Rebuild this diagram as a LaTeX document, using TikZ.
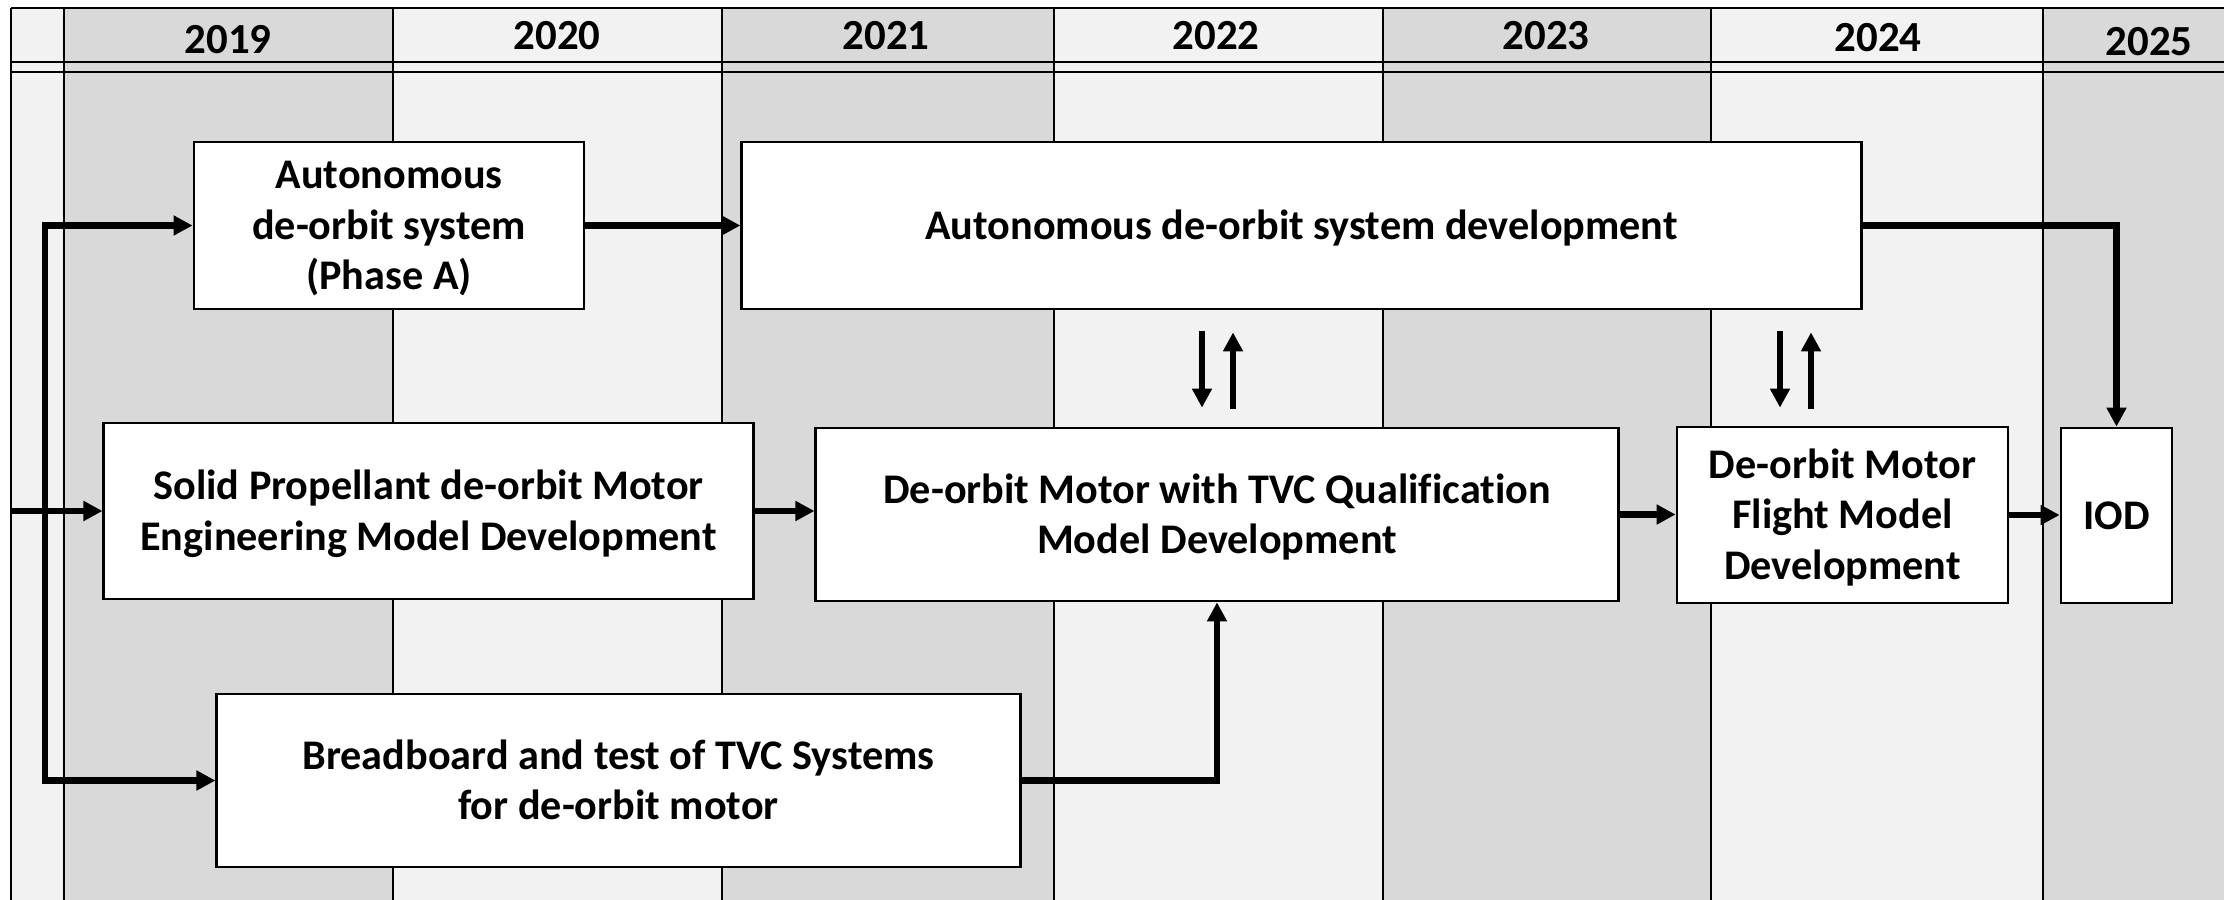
\documentclass[tikz,border=0pt]{standalone}
\usepackage{fontspec}
\setmainfont{Carlito}[Ligatures=NoCommon]
\usetikzlibrary{arrows.meta,calc}
\definecolor{colgray}{HTML}{D9D9D9}
\definecolor{collight}{HTML}{F2F2F2}
% centred lines of a work-package box, first line given a taller ascent
\newcommand{\stacklines}[1]{\begin{tabular}{@{}c@{}}\rule{0pt}{12.2pt}#1\end{tabular}}
\begin{document}
\begin{tikzpicture}[x=0.01cm,y=-0.01cm,
  box/.style={draw=black,line width=0.75pt,fill=white,inner sep=0pt,
    font=\fontsize{12}{14.35}\selectfont\bfseries},
  yr/.style={inner sep=0pt,font=\fontsize{12.2}{14}\selectfont\bfseries},
  gridline/.style={line width=0.6pt,black},
  arr/.style={line width=1.8pt,-{Triangle[length=0.19cm,width=0.19cm]}},
  twoarr/.style={line width=1.8pt,{Triangle[length=0.19cm,width=0.19cm]}-{Triangle[length=0.19cm,width=0.19cm]}},
]
\useasboundingbox (0,0) rectangle (2224,900);

% year bands
\fill[collight] (11,8)   rectangle (64,900);
\fill[colgray]  (64,8)   rectangle (393,900);
\fill[collight] (393,8)  rectangle (722,900);
\fill[colgray]  (722,8)  rectangle (1054,900);
\fill[collight] (1054,8) rectangle (1383,900);
\fill[colgray]  (1383,8) rectangle (1711,900);
\fill[collight] (1711,8) rectangle (2043,900);
\fill[colgray]  (2043,8) rectangle (2224,900);

% grid
\draw[gridline] (11,8) -- (2224,8);
\draw[gridline] (11,62) -- (2224,62);
\draw[gridline] (11,72) -- (2224,72);
\foreach \x in {11,64,393,722,1054,1383,1711,2043}
  \draw[gridline] (\x,8) -- (\x,900);

% year headings
\node[yr] (y2019) at (228,40)  {2019};
\node[yr] (y2020) at (557,36)  {2020};
\node[yr] (y2021) at (886,36)  {2021};
\node[yr] (y2022) at (1216,36) {2022};
\node[yr] (y2023) at (1546,36) {2023};
\node[yr] (y2024) at (1878,38) {2024};
\node[yr] (y2025) at (2149,42) {2025};

% work packages
\node[box,minimum width=3.90cm,minimum height=1.67cm] (A) at (389,225.5)
  {\stacklines{Autonomous\\de-orbit system\\(Phase A)}};
\node[box,minimum width=11.19cm,minimum height=1.67cm] (B) at (1301.5,225.5)
  {\stacklines{Autonomous de-orbit system development}};
\node[box,minimum width=6.49cm,minimum height=1.76cm] (C) at (428.5,511)
  {\stacklines{Solid Propellant de-orbit Motor\\Engineering Model Development}};
\node[box,minimum width=8.02cm,minimum height=1.73cm] (D) at (1217,514.5)
  {\stacklines{De-orbit Motor with TVC Qualification\\Model Development}};
\node[box,minimum width=3.31cm,minimum height=1.76cm] (E) at (1842.5,515)
  {\stacklines{De-orbit Motor\\Flight Model\\Development}};
\node[box,minimum width=1.11cm,minimum height=1.75cm] (F) at (2116.5,515.5)
  {\stacklines{IOD}};
\node[box,minimum width=8.03cm,minimum height=1.73cm] (G) at (618.5,780.5)
  {\stacklines{Breadboard and test of TVC Systems\\for de-orbit motor}};

% helper coordinates
\coordinate (trunk) at (45,0);
\coordinate (edge) at (11,0);
\coordinate (dn1) at (1202,0);
\coordinate (up1) at (1233,0);
\coordinate (dn2) at (1780,0);
\coordinate (up2) at (1811,0);

% connectors
\draw[twoarr] (A.west) -| (trunk |- G.west) -- (G.west);
\draw[arr] (edge |- C.west) -- (C.west);
\draw[arr] (A.east) -- (B.west);
\draw[arr] (B.east) -| (F.north);
\draw[arr] (C.east) -- (C.east -| D.west);
\draw[arr] (D.east) -- (D.east -| E.west);
\draw[arr] (E.east) -- (E.east -| F.west);
\draw[arr] (G.east) -| (D.south);

% exchanges between system and motor work
\draw[arr,shorten <=0.21cm,shorten >=0.19cm] (dn1 |- B.south) -- (dn1 |- D.north);
\draw[arr,shorten <=0.18cm,shorten >=0.22cm] (up1 |- D.north) -- (up1 |- B.south);
\draw[arr,shorten <=0.21cm,shorten >=0.18cm] (dn2 |- B.south) -- (dn2 |- E.north);
\draw[arr,shorten <=0.17cm,shorten >=0.22cm] (up2 |- E.north) -- (up2 |- B.south);
\end{tikzpicture}
\end{document}
